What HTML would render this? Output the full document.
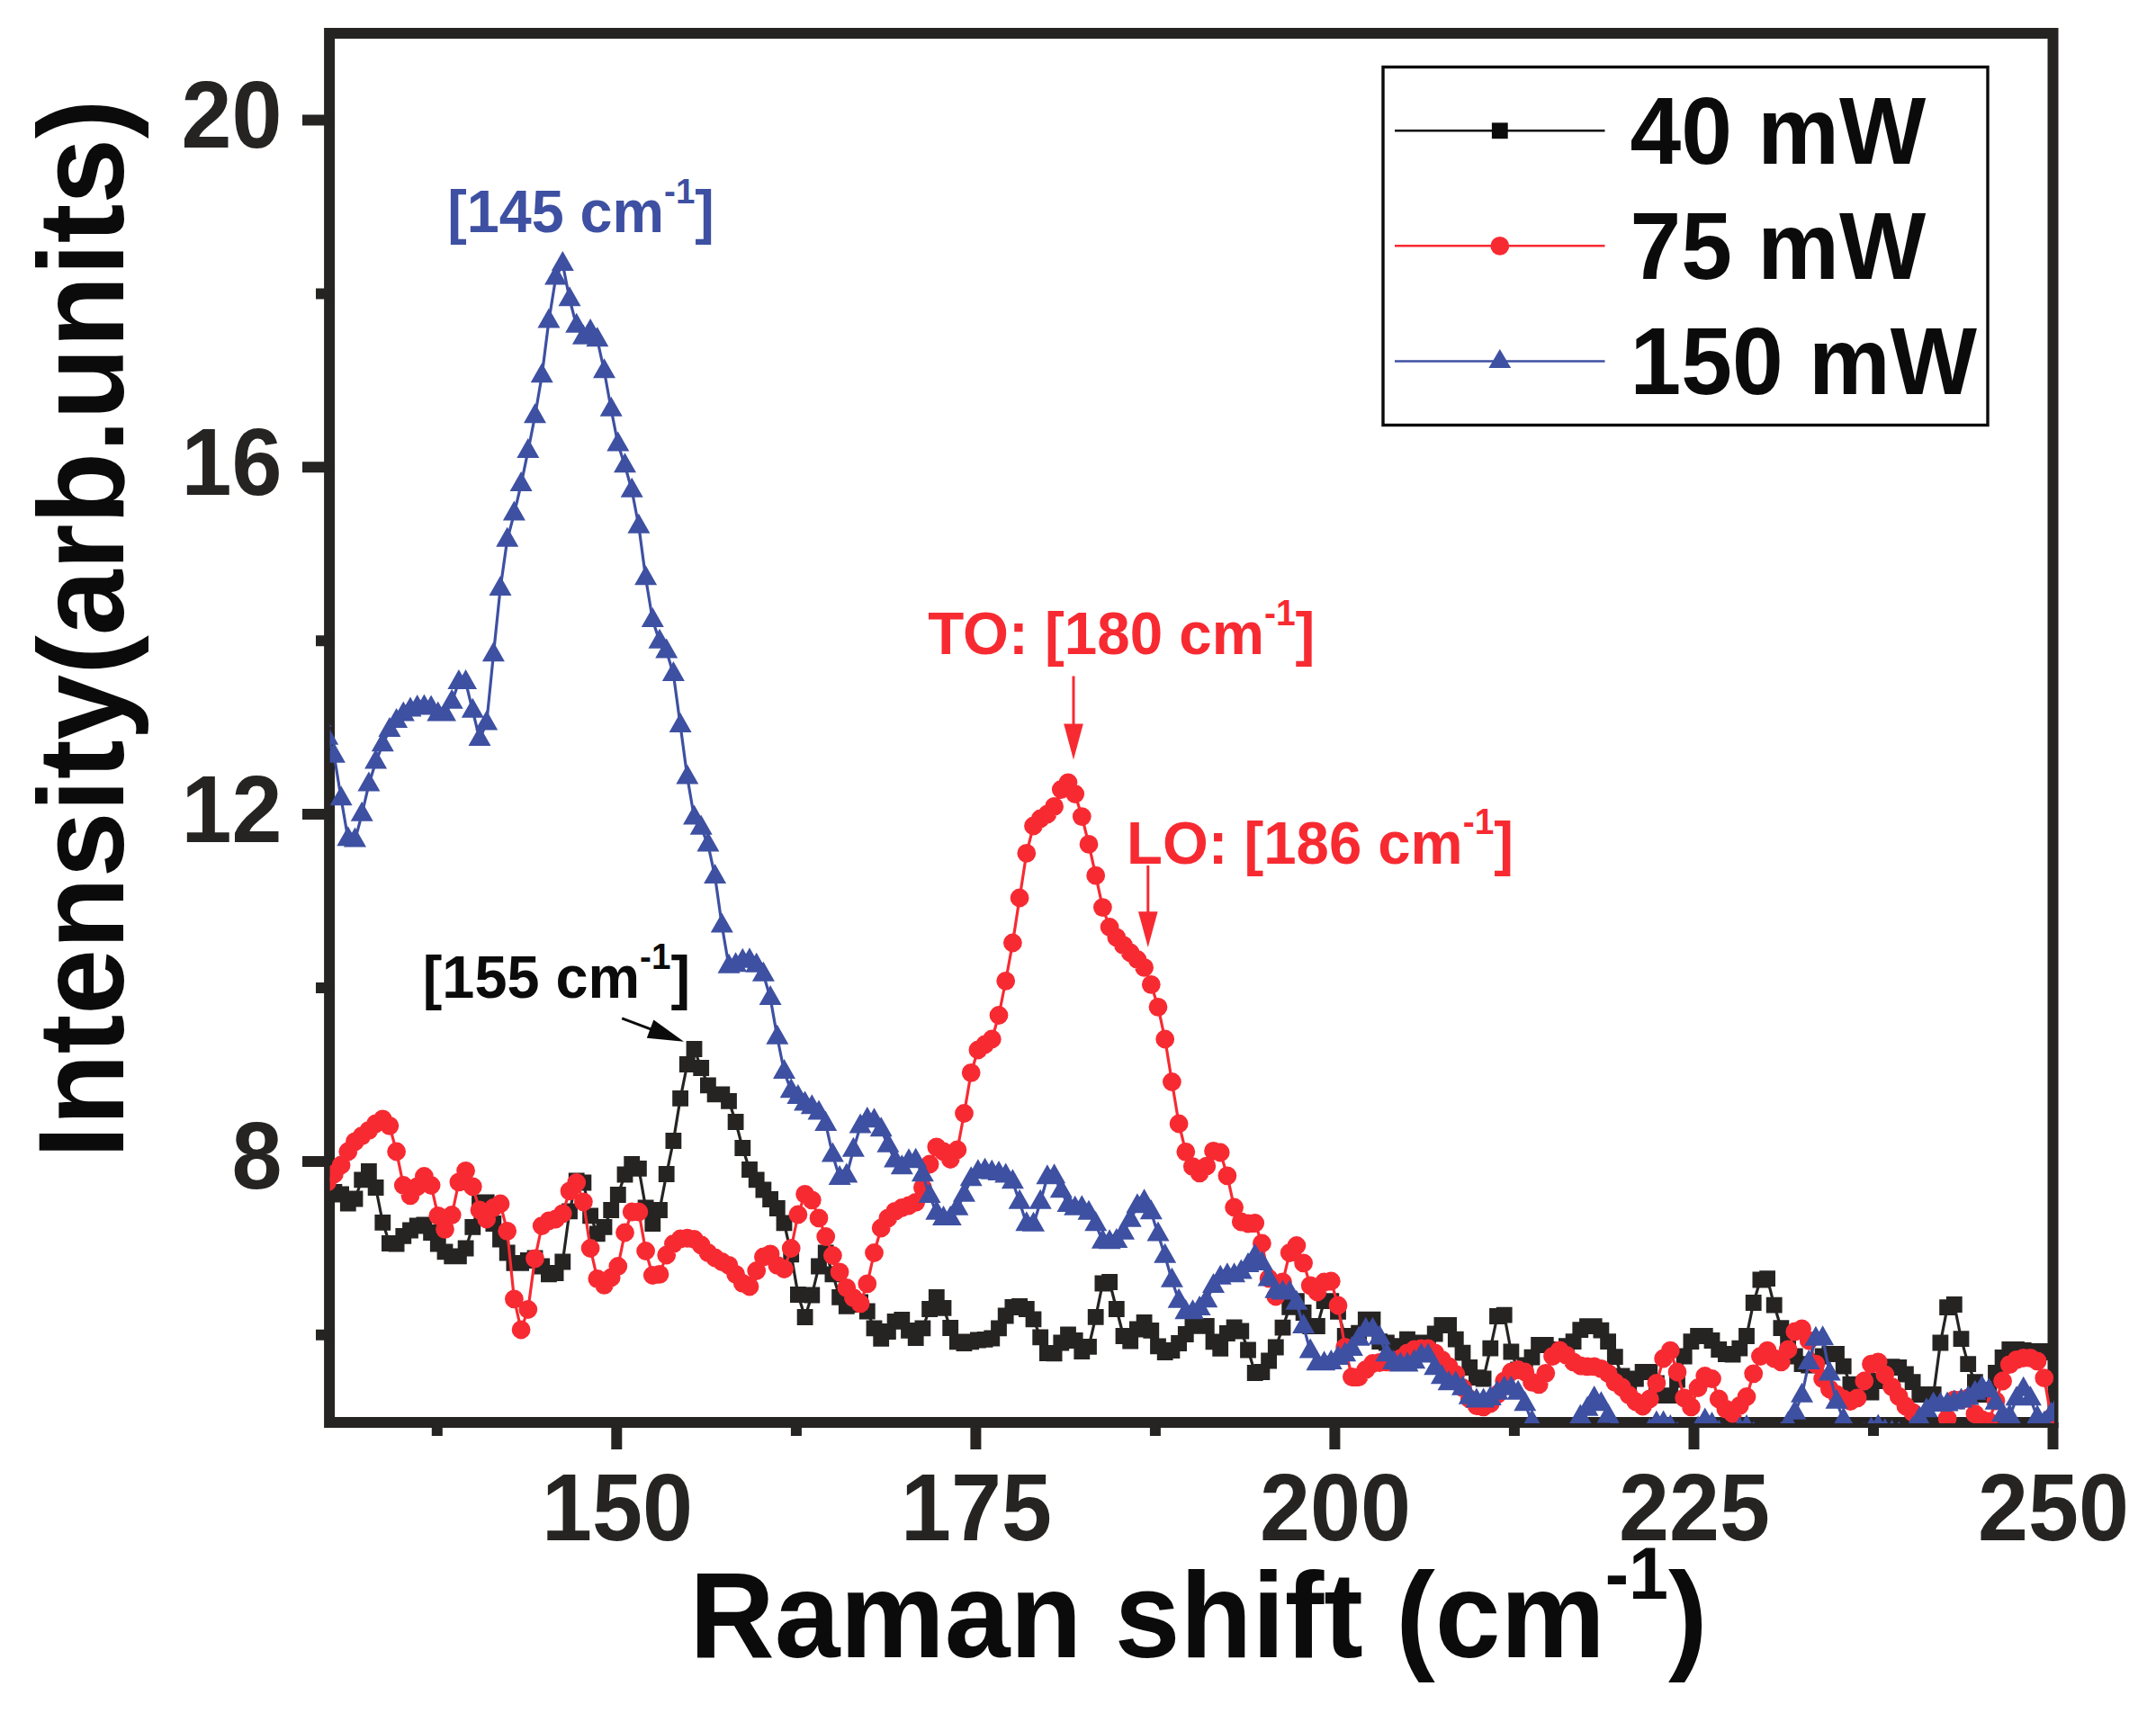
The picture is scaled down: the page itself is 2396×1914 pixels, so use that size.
<!DOCTYPE html>
<html lang="en"><head><meta charset="utf-8"><title>Raman shift</title>
<style>html,body{margin:0;padding:0;background:#fff}body{width:2396px;height:1914px;overflow:hidden}svg{display:block}text{font-family:"Liberation Sans", Arial, Helvetica, sans-serif;font-weight:bold}</style></head><body>
<svg width="2396" height="1914" viewBox="0 0 2396 1914">
<rect width="2396" height="1914" fill="#fff"/>
<defs><clipPath id="cp"><rect x="366.6" y="37" width="1916.4" height="1545"/></clipPath></defs>
<rect x="366.1" y="37" width="1915.4" height="1544" fill="none" stroke="#262422" stroke-width="12"/>
<path d="M685.3 1581 V1611 M1084.4 1581 V1611 M1483.4 1581 V1611 M1882.5 1581 V1611 M2281.5 1581 V1611 M485.8 1581 V1596 M884.9 1581 V1596 M1283.9 1581 V1596 M1682.9 1581 V1596 M2082 1581 V1596 M366.1 1290.9 H336 M366.1 905.1 H336 M366.1 519.3 H336 M366.1 133.5 H336 M366.1 1483.8 H351 M366.1 1098 H351 M366.1 712.2 H351 M366.1 326.4 H351" stroke="#262422" stroke-width="12" fill="none"/>
<g fill="#262422" font-size="100.7" text-anchor="middle">
<text transform="translate(685.9 1712) scale(1 1.041)" >150</text>
<text transform="translate(1085 1712) scale(1 1.041)" >175</text>
<text transform="translate(1484 1712) scale(1 1.041)" >200</text>
<text transform="translate(1883.1 1712) scale(1 1.041)" >225</text>
<text transform="translate(2282.1 1712) scale(1 1.041)" >250</text>
</g>
<g fill="#262422" font-size="100.7" text-anchor="end">
<text transform="translate(313.5 1321.3) scale(1 1.041)" >8</text>
<text transform="translate(313.5 935.5) scale(1 1.041)" >12</text>
<text transform="translate(313.5 549.7) scale(1 1.041)" >16</text>
<text transform="translate(313.5 163.9) scale(1 1.041)" >20</text>
</g>
<text transform="translate(766.3 1842) scale(1 1.03)" font-size="130.8" fill="#0b0b0b">Raman shift (cm<tspan font-size="79" dy="-63.3">-1</tspan><tspan dy="63.3">)</tspan></text>
<text transform="translate(137.1 1287.6) rotate(-90) scale(1 1.03)" font-size="130.8" fill="#0b0b0b">Intensity(arb.units)</text>
<g clip-path="url(#cp)">
<path d="M356 1315 L363.7 1320 L371.4 1325 L379.1 1327.5 L386.8 1337.5 L394.5 1332.5 L402.2 1311.3 L409.9 1302 L417.6 1320 L425.3 1358.8 L432.9 1382 L440.6 1382.5 L448.3 1373.8 L456 1367.5 L463.7 1362.5 L471.4 1361.3 L479.1 1370 L486.8 1382.5 L494.5 1391.3 L502.2 1396.3 L509.9 1396.3 L517.6 1387.5 L525.3 1363.8 L533 1336.3 L540.7 1336.3 L548.4 1360 L556 1377.5 L563.7 1392.5 L571.4 1403.8 L579.1 1403.8 L586.8 1401 L594.5 1398.3 L602.2 1407.5 L609.9 1416.3 L617.6 1415 L625.3 1402.5 L633 1346.3 L640.7 1312.5 L648.4 1314.5 L656.1 1351.3 L663.8 1371.3 L671.5 1363.8 L679.2 1345 L686.8 1328 L694.5 1305.5 L702.2 1293.8 L709.9 1298.8 L717.6 1342.5 L725.3 1360 L733 1345 L740.7 1305 L748.4 1268 L756.1 1220.8 L763.8 1183 L771.5 1166 L779.2 1187 L786.9 1206.3 L794.6 1216.3 L802.3 1216.3 L810 1223.8 L817.6 1247 L825.3 1276 L833 1300 L840.7 1311.3 L848.4 1322.5 L856.1 1333 L863.8 1343 L871.5 1359.3 L879.2 1394.3 L886.9 1439 L894.6 1464 L902.3 1439.5 L910 1407.5 L917.7 1392.5 L925.4 1416.3 L933.1 1441.8 L940.8 1451.8 L948.4 1450 L956.1 1447.5 L963.8 1457.5 L971.5 1476.3 L979.2 1487.8 L986.9 1480 L994.6 1468.8 L1002.3 1466.8 L1010 1478.8 L1017.7 1487 L1025.4 1476.3 L1033.1 1455 L1040.8 1441.8 L1048.5 1453.8 L1056.2 1476 L1063.9 1491.3 L1071.5 1493 L1079.2 1491.3 L1086.9 1489.5 L1094.6 1488.8 L1102.3 1487.5 L1110 1476.3 L1117.7 1462.5 L1125.4 1453 L1133.1 1451.8 L1140.8 1455 L1148.5 1466.3 L1156.2 1486.3 L1163.9 1504 L1171.6 1504.3 L1179.3 1492.5 L1187 1483.3 L1194.7 1490 L1202.3 1502 L1210 1496.8 L1217.7 1463.8 L1225.4 1426.5 L1233.1 1425 L1240.8 1455 L1248.5 1485 L1256.2 1490.5 L1263.9 1477.5 L1271.6 1470 L1279.3 1478.8 L1287 1496.3 L1294.7 1503 L1302.4 1501 L1310.1 1493 L1317.8 1483 L1325.5 1473.8 L1333.1 1473.8 L1340.8 1473.8 L1348.5 1491.3 L1356.2 1498.8 L1363.9 1482 L1371.6 1475.3 L1379.3 1479.5 L1387 1500.5 L1394.7 1526 L1402.4 1525 L1410.1 1512.5 L1417.8 1497.5 L1425.5 1475.8 L1433.2 1452.8 L1440.9 1446.2 L1448.6 1459 L1456.2 1474 L1463.9 1474 L1471.6 1446.2 L1479.3 1446.2 L1487 1457.8 L1494.7 1485 L1502.4 1485.4 L1510.1 1481.6 L1517.8 1466.8 L1525.5 1466.8 L1533.2 1491.2 L1540.9 1492.5 L1548.6 1496.2 L1556.3 1496.2 L1564 1488.8 L1571.7 1492.5 L1579.4 1492.5 L1587 1492.5 L1594.7 1482.5 L1602.4 1473 L1610.1 1473 L1617.8 1488.8 L1625.5 1503.8 L1633.2 1520 L1640.9 1531.2 L1648.6 1532.5 L1656.3 1498.8 L1664 1463 L1671.7 1461.8 L1679.4 1502.5 L1687.1 1522.5 L1694.8 1517.5 L1702.5 1508.8 L1710.2 1495 L1717.8 1495 L1725.5 1500 L1733.2 1502.5 L1740.9 1496.2 L1748.6 1491.2 L1756.3 1478.2 L1764 1474.2 L1771.7 1474.2 L1779.4 1478.8 L1787.1 1491.2 L1794.8 1508.2 L1802.5 1529.5 L1810.2 1546.2 L1817.9 1532.5 L1825.6 1525 L1833.3 1525 L1840.9 1537.5 L1848.6 1551.2 L1856.3 1551.2 L1864 1533.8 L1871.7 1507.5 L1879.4 1491.2 L1887.1 1485 L1894.8 1485 L1902.5 1490 L1910.2 1500 L1917.9 1505 L1925.6 1505.5 L1933.3 1498.8 L1941 1485 L1948.7 1448 L1956.4 1422.5 L1964.1 1421.2 L1971.7 1450.8 L1979.4 1476.2 L1987.1 1493.8 L1994.8 1507.5 L2002.5 1516.2 L2010.2 1517.5 L2017.9 1513.8 L2025.6 1507.5 L2033.3 1505 L2041 1505 L2048.7 1518.8 L2056.4 1538.8 L2064.1 1546.2 L2071.8 1547.5 L2079.5 1547.5 L2087.2 1535 L2094.8 1522.5 L2102.5 1519.2 L2110.2 1520 L2117.9 1527.5 L2125.6 1536.2 L2133.3 1550 L2141 1550 L2148.7 1550 L2156.4 1492.5 L2164.1 1453.2 L2171.8 1450 L2179.5 1488.2 L2187.2 1516.2 L2194.9 1536.2 L2202.6 1550 L2210.3 1545 L2218 1526 L2225.6 1509 L2233.3 1500 L2241 1500 L2248.7 1501 L2256.4 1502 L2264.1 1502 L2271.8 1502 L2279.5 1503 L2287.2 1504" fill="none" stroke="#262422" stroke-width="3.2" stroke-linejoin="round"/>
<path d="M347.1 1306.1h17.8v17.8h-17.8zM354.8 1311.1h17.8v17.8h-17.8zM362.5 1316.1h17.8v17.8h-17.8zM370.2 1318.6h17.8v17.8h-17.8zM377.9 1328.6h17.8v17.8h-17.8zM385.6 1323.6h17.8v17.8h-17.8zM393.3 1302.4h17.8v17.8h-17.8zM401 1293.1h17.8v17.8h-17.8zM408.7 1311.1h17.8v17.8h-17.8zM416.4 1349.9h17.8v17.8h-17.8zM424 1373.1h17.8v17.8h-17.8zM431.7 1373.6h17.8v17.8h-17.8zM439.4 1364.9h17.8v17.8h-17.8zM447.1 1358.6h17.8v17.8h-17.8zM454.8 1353.6h17.8v17.8h-17.8zM462.5 1352.4h17.8v17.8h-17.8zM470.2 1361.1h17.8v17.8h-17.8zM477.9 1373.6h17.8v17.8h-17.8zM485.6 1382.4h17.8v17.8h-17.8zM493.3 1387.4h17.8v17.8h-17.8zM501 1387.4h17.8v17.8h-17.8zM508.7 1378.6h17.8v17.8h-17.8zM516.4 1354.9h17.8v17.8h-17.8zM524.1 1327.4h17.8v17.8h-17.8zM531.8 1327.4h17.8v17.8h-17.8zM539.5 1351.1h17.8v17.8h-17.8zM547.1 1368.6h17.8v17.8h-17.8zM554.8 1383.6h17.8v17.8h-17.8zM562.5 1394.9h17.8v17.8h-17.8zM570.2 1394.9h17.8v17.8h-17.8zM577.9 1392.1h17.8v17.8h-17.8zM585.6 1389.4h17.8v17.8h-17.8zM593.3 1398.6h17.8v17.8h-17.8zM601 1407.4h17.8v17.8h-17.8zM608.7 1406.1h17.8v17.8h-17.8zM616.4 1393.6h17.8v17.8h-17.8zM624.1 1337.4h17.8v17.8h-17.8zM631.8 1303.6h17.8v17.8h-17.8zM639.5 1305.6h17.8v17.8h-17.8zM647.2 1342.4h17.8v17.8h-17.8zM654.9 1362.4h17.8v17.8h-17.8zM662.6 1354.9h17.8v17.8h-17.8zM670.3 1336.1h17.8v17.8h-17.8zM677.9 1319.1h17.8v17.8h-17.8zM685.6 1296.6h17.8v17.8h-17.8zM693.3 1284.9h17.8v17.8h-17.8zM701 1289.9h17.8v17.8h-17.8zM708.7 1333.6h17.8v17.8h-17.8zM716.4 1351.1h17.8v17.8h-17.8zM724.1 1336.1h17.8v17.8h-17.8zM731.8 1296.1h17.8v17.8h-17.8zM739.5 1259.1h17.8v17.8h-17.8zM747.2 1211.9h17.8v17.8h-17.8zM754.9 1174.1h17.8v17.8h-17.8zM762.6 1157.1h17.8v17.8h-17.8zM770.3 1178.1h17.8v17.8h-17.8zM778 1197.4h17.8v17.8h-17.8zM785.7 1207.4h17.8v17.8h-17.8zM793.4 1207.4h17.8v17.8h-17.8zM801.1 1214.9h17.8v17.8h-17.8zM808.7 1238.1h17.8v17.8h-17.8zM816.4 1267.1h17.8v17.8h-17.8zM824.1 1291.1h17.8v17.8h-17.8zM831.8 1302.4h17.8v17.8h-17.8zM839.5 1313.6h17.8v17.8h-17.8zM847.2 1324.1h17.8v17.8h-17.8zM854.9 1334.1h17.8v17.8h-17.8zM862.6 1350.4h17.8v17.8h-17.8zM870.3 1385.4h17.8v17.8h-17.8zM878 1430.1h17.8v17.8h-17.8zM885.7 1455.1h17.8v17.8h-17.8zM893.4 1430.6h17.8v17.8h-17.8zM901.1 1398.6h17.8v17.8h-17.8zM908.8 1383.6h17.8v17.8h-17.8zM916.5 1407.4h17.8v17.8h-17.8zM924.2 1432.9h17.8v17.8h-17.8zM931.9 1442.9h17.8v17.8h-17.8zM939.5 1441.1h17.8v17.8h-17.8zM947.2 1438.6h17.8v17.8h-17.8zM954.9 1448.6h17.8v17.8h-17.8zM962.6 1467.4h17.8v17.8h-17.8zM970.3 1478.9h17.8v17.8h-17.8zM978 1471.1h17.8v17.8h-17.8zM985.7 1459.9h17.8v17.8h-17.8zM993.4 1457.9h17.8v17.8h-17.8zM1001.1 1469.9h17.8v17.8h-17.8zM1008.8 1478.1h17.8v17.8h-17.8zM1016.5 1467.4h17.8v17.8h-17.8zM1024.2 1446.1h17.8v17.8h-17.8zM1031.9 1432.9h17.8v17.8h-17.8zM1039.6 1444.9h17.8v17.8h-17.8zM1047.3 1467.1h17.8v17.8h-17.8zM1055 1482.4h17.8v17.8h-17.8zM1062.6 1484.1h17.8v17.8h-17.8zM1070.3 1482.4h17.8v17.8h-17.8zM1078 1480.6h17.8v17.8h-17.8zM1085.7 1479.9h17.8v17.8h-17.8zM1093.4 1478.6h17.8v17.8h-17.8zM1101.1 1467.4h17.8v17.8h-17.8zM1108.8 1453.6h17.8v17.8h-17.8zM1116.5 1444.1h17.8v17.8h-17.8zM1124.2 1442.9h17.8v17.8h-17.8zM1131.9 1446.1h17.8v17.8h-17.8zM1139.6 1457.4h17.8v17.8h-17.8zM1147.3 1477.4h17.8v17.8h-17.8zM1155 1495.1h17.8v17.8h-17.8zM1162.7 1495.4h17.8v17.8h-17.8zM1170.4 1483.6h17.8v17.8h-17.8zM1178.1 1474.4h17.8v17.8h-17.8zM1185.8 1481.1h17.8v17.8h-17.8zM1193.4 1493.1h17.8v17.8h-17.8zM1201.1 1487.9h17.8v17.8h-17.8zM1208.8 1454.9h17.8v17.8h-17.8zM1216.5 1417.6h17.8v17.8h-17.8zM1224.2 1416.1h17.8v17.8h-17.8zM1231.9 1446.1h17.8v17.8h-17.8zM1239.6 1476.1h17.8v17.8h-17.8zM1247.3 1481.6h17.8v17.8h-17.8zM1255 1468.6h17.8v17.8h-17.8zM1262.7 1461.1h17.8v17.8h-17.8zM1270.4 1469.9h17.8v17.8h-17.8zM1278.1 1487.4h17.8v17.8h-17.8zM1285.8 1494.1h17.8v17.8h-17.8zM1293.5 1492.1h17.8v17.8h-17.8zM1301.2 1484.1h17.8v17.8h-17.8zM1308.9 1474.1h17.8v17.8h-17.8zM1316.5 1464.9h17.8v17.8h-17.8zM1324.2 1464.9h17.8v17.8h-17.8zM1331.9 1464.9h17.8v17.8h-17.8zM1339.6 1482.4h17.8v17.8h-17.8zM1347.3 1489.9h17.8v17.8h-17.8zM1355 1473.1h17.8v17.8h-17.8zM1362.7 1466.4h17.8v17.8h-17.8zM1370.4 1470.6h17.8v17.8h-17.8zM1378.1 1491.6h17.8v17.8h-17.8zM1385.8 1517.1h17.8v17.8h-17.8zM1393.5 1516.1h17.8v17.8h-17.8zM1401.2 1503.6h17.8v17.8h-17.8zM1408.9 1488.6h17.8v17.8h-17.8zM1416.6 1466.8h17.8v17.8h-17.8zM1424.3 1443.9h17.8v17.8h-17.8zM1432 1437.3h17.8v17.8h-17.8zM1439.7 1450.1h17.8v17.8h-17.8zM1447.3 1465.1h17.8v17.8h-17.8zM1455 1465.1h17.8v17.8h-17.8zM1462.7 1437.3h17.8v17.8h-17.8zM1470.4 1437.3h17.8v17.8h-17.8zM1478.1 1448.9h17.8v17.8h-17.8zM1485.8 1476.1h17.8v17.8h-17.8zM1493.5 1476.5h17.8v17.8h-17.8zM1501.2 1472.7h17.8v17.8h-17.8zM1508.9 1457.8h17.8v17.8h-17.8zM1516.6 1457.8h17.8v17.8h-17.8zM1524.3 1482.3h17.8v17.8h-17.8zM1532 1483.6h17.8v17.8h-17.8zM1539.7 1487.3h17.8v17.8h-17.8zM1547.4 1487.3h17.8v17.8h-17.8zM1555.1 1479.8h17.8v17.8h-17.8zM1562.8 1483.6h17.8v17.8h-17.8zM1570.5 1483.6h17.8v17.8h-17.8zM1578.1 1483.6h17.8v17.8h-17.8zM1585.8 1473.6h17.8v17.8h-17.8zM1593.5 1464.1h17.8v17.8h-17.8zM1601.2 1464.1h17.8v17.8h-17.8zM1608.9 1479.8h17.8v17.8h-17.8zM1616.6 1494.8h17.8v17.8h-17.8zM1624.3 1511.1h17.8v17.8h-17.8zM1632 1522.3h17.8v17.8h-17.8zM1639.7 1523.6h17.8v17.8h-17.8zM1647.4 1489.8h17.8v17.8h-17.8zM1655.1 1454.1h17.8v17.8h-17.8zM1662.8 1452.8h17.8v17.8h-17.8zM1670.5 1493.6h17.8v17.8h-17.8zM1678.2 1513.6h17.8v17.8h-17.8zM1685.9 1508.6h17.8v17.8h-17.8zM1693.6 1499.8h17.8v17.8h-17.8zM1701.2 1486.1h17.8v17.8h-17.8zM1708.9 1486.1h17.8v17.8h-17.8zM1716.6 1491.1h17.8v17.8h-17.8zM1724.3 1493.6h17.8v17.8h-17.8zM1732 1487.3h17.8v17.8h-17.8zM1739.7 1482.3h17.8v17.8h-17.8zM1747.4 1469.3h17.8v17.8h-17.8zM1755.1 1465.3h17.8v17.8h-17.8zM1762.8 1465.3h17.8v17.8h-17.8zM1770.5 1469.8h17.8v17.8h-17.8zM1778.2 1482.3h17.8v17.8h-17.8zM1785.9 1499.3h17.8v17.8h-17.8zM1793.6 1520.6h17.8v17.8h-17.8zM1801.3 1537.3h17.8v17.8h-17.8zM1809 1523.6h17.8v17.8h-17.8zM1816.7 1516.1h17.8v17.8h-17.8zM1824.4 1516.1h17.8v17.8h-17.8zM1832 1528.6h17.8v17.8h-17.8zM1839.7 1542.3h17.8v17.8h-17.8zM1847.4 1542.3h17.8v17.8h-17.8zM1855.1 1524.8h17.8v17.8h-17.8zM1862.8 1498.6h17.8v17.8h-17.8zM1870.5 1482.3h17.8v17.8h-17.8zM1878.2 1476.1h17.8v17.8h-17.8zM1885.9 1476.1h17.8v17.8h-17.8zM1893.6 1481.1h17.8v17.8h-17.8zM1901.3 1491.1h17.8v17.8h-17.8zM1909 1496.1h17.8v17.8h-17.8zM1916.7 1496.6h17.8v17.8h-17.8zM1924.4 1489.8h17.8v17.8h-17.8zM1932.1 1476.1h17.8v17.8h-17.8zM1939.8 1439.1h17.8v17.8h-17.8zM1947.5 1413.6h17.8v17.8h-17.8zM1955.2 1412.3h17.8v17.8h-17.8zM1962.8 1441.8h17.8v17.8h-17.8zM1970.5 1467.3h17.8v17.8h-17.8zM1978.2 1484.8h17.8v17.8h-17.8zM1985.9 1498.6h17.8v17.8h-17.8zM1993.6 1507.3h17.8v17.8h-17.8zM2001.3 1508.6h17.8v17.8h-17.8zM2009 1504.8h17.8v17.8h-17.8zM2016.7 1498.6h17.8v17.8h-17.8zM2024.4 1496.1h17.8v17.8h-17.8zM2032.1 1496.1h17.8v17.8h-17.8zM2039.8 1509.8h17.8v17.8h-17.8zM2047.5 1529.8h17.8v17.8h-17.8zM2055.2 1537.3h17.8v17.8h-17.8zM2062.9 1538.6h17.8v17.8h-17.8zM2070.6 1538.6h17.8v17.8h-17.8zM2078.3 1526.1h17.8v17.8h-17.8zM2085.9 1513.6h17.8v17.8h-17.8zM2093.6 1510.3h17.8v17.8h-17.8zM2101.3 1511.1h17.8v17.8h-17.8zM2109 1518.6h17.8v17.8h-17.8zM2116.7 1527.3h17.8v17.8h-17.8zM2124.4 1541.1h17.8v17.8h-17.8zM2132.1 1541.1h17.8v17.8h-17.8zM2139.8 1541.1h17.8v17.8h-17.8zM2147.5 1483.6h17.8v17.8h-17.8zM2155.2 1444.3h17.8v17.8h-17.8zM2162.9 1441.1h17.8v17.8h-17.8zM2170.6 1479.3h17.8v17.8h-17.8zM2178.3 1507.3h17.8v17.8h-17.8zM2186 1527.3h17.8v17.8h-17.8zM2193.7 1541.1h17.8v17.8h-17.8zM2201.4 1536.1h17.8v17.8h-17.8zM2209.1 1517.1h17.8v17.8h-17.8zM2216.7 1500.1h17.8v17.8h-17.8zM2224.4 1491.1h17.8v17.8h-17.8zM2232.1 1491.1h17.8v17.8h-17.8zM2239.8 1492.1h17.8v17.8h-17.8zM2247.5 1493.1h17.8v17.8h-17.8zM2255.2 1493.1h17.8v17.8h-17.8zM2262.9 1493.1h17.8v17.8h-17.8zM2270.6 1494.1h17.8v17.8h-17.8zM2278.3 1495.1h17.8v17.8h-17.8z" fill="#262422"/>
<path d="M356 1322.6 L363.7 1313.8 L371.4 1305 L379.1 1295 L386.8 1280 L394.5 1268.8 L402.2 1262.5 L409.9 1256.3 L417.6 1248.8 L425.3 1243.8 L432.9 1251.3 L440.6 1280 L448.3 1317.5 L456 1328.8 L463.7 1318.8 L471.4 1307.5 L479.1 1317.5 L486.8 1351.3 L494.5 1366.3 L502.2 1350.5 L509.9 1313.8 L517.6 1301.3 L525.3 1318.8 L533 1345 L540.7 1355 L548.4 1342.5 L556 1338 L563.7 1368.3 L571.4 1443.8 L579.1 1478 L586.8 1455.5 L594.5 1398.8 L602.2 1362.5 L609.9 1357 L617.6 1355 L625.3 1348.8 L633 1323.8 L640.7 1314.5 L648.4 1335.8 L656.1 1387.5 L663.8 1421.3 L671.5 1428.3 L679.2 1420 L686.8 1407.5 L694.5 1370 L702.2 1347 L709.9 1347 L717.6 1390.5 L725.3 1417.5 L733 1416.3 L740.7 1395 L748.4 1382.5 L756.1 1377 L763.8 1376.3 L771.5 1377.5 L779.2 1383.8 L786.9 1392.5 L794.6 1398 L802.3 1402.5 L810 1406.3 L817.6 1416.3 L825.3 1426.3 L833 1430 L840.7 1412.5 L848.4 1397 L856.1 1393.8 L863.8 1406.3 L871.5 1410.5 L879.2 1387.5 L886.9 1350 L894.6 1327.3 L902.3 1333.8 L910 1353.8 L917.7 1374.5 L925.4 1395.5 L933.1 1413.8 L940.8 1431.3 L948.4 1442.5 L956.1 1448.8 L963.8 1426.8 L971.5 1392.5 L979.2 1365 L986.9 1353.8 L994.6 1346.3 L1002.3 1342.5 L1010 1340 L1017.7 1336.3 L1025.4 1320 L1033.1 1294 L1040.8 1274.8 L1048.5 1280 L1056.2 1288.5 L1063.9 1278 L1071.5 1237.5 L1079.2 1192.3 L1086.9 1167 L1094.6 1161 L1102.3 1155 L1110 1128.5 L1117.7 1090.3 L1125.4 1048 L1133.1 998 L1140.8 948.4 L1148.5 918 L1156.2 910 L1163.9 905 L1171.6 896.4 L1179.3 877.5 L1187 869.8 L1194.7 882.5 L1202.3 907.6 L1210 938.4 L1217.7 973.2 L1225.4 1008.6 L1233.1 1030.5 L1240.8 1041.8 L1248.5 1050.7 L1256.2 1059 L1263.9 1066.5 L1271.6 1075.4 L1279.3 1094.3 L1287 1119.3 L1294.7 1155 L1302.4 1202.5 L1310.1 1249 L1317.8 1280.3 L1325.5 1296.6 L1333.1 1303.8 L1340.8 1296.2 L1348.5 1279.4 L1356.2 1281 L1363.9 1306.8 L1371.6 1342 L1379.3 1358 L1387 1360 L1394.7 1359.5 L1402.4 1382 L1410.1 1421 L1417.8 1441 L1425.5 1425 L1433.2 1392.5 L1440.9 1384.5 L1448.6 1403.8 L1456.2 1428.8 L1463.9 1436 L1471.6 1425 L1479.3 1424 L1487 1451 L1494.7 1497.5 L1502.4 1530.5 L1510.1 1530.5 L1517.8 1522.5 L1525.5 1515.5 L1533.2 1514.5 L1540.9 1513.8 L1548.6 1512.5 L1556.3 1510 L1564 1503.8 L1571.7 1500 L1579.4 1498.8 L1587 1498.8 L1594.7 1503.8 L1602.4 1511.3 L1610.1 1518.8 L1617.8 1527.5 L1625.5 1542.5 L1633.2 1555 L1640.9 1562.5 L1648.6 1563.8 L1656.3 1560 L1664 1550 L1671.7 1535 L1679.4 1525 L1687.1 1522.5 L1694.8 1525 L1702.5 1536.3 L1710.2 1538.8 L1717.8 1526.3 L1725.5 1507.5 L1733.2 1500.8 L1740.9 1506.3 L1748.6 1513.8 L1756.3 1518 L1764 1518.8 L1771.7 1518.8 L1779.4 1521.3 L1787.1 1526.3 L1794.8 1536.3 L1802.5 1542 L1810.2 1550.5 L1817.9 1558 L1825.6 1563 L1833.3 1555 L1840.9 1537.5 L1848.6 1510 L1856.3 1501.2 L1864 1525 L1871.7 1553.8 L1879.4 1563.8 L1887.1 1542.5 L1894.8 1529.5 L1902.5 1532.5 L1910.2 1555 L1917.9 1566.2 L1925.6 1571.2 L1933.3 1562.5 L1941 1552.5 L1948.7 1526.8 L1956.4 1507.5 L1964.1 1501.2 L1971.7 1510 L1979.4 1513.8 L1987.1 1500 L1994.8 1480 L2002.5 1477 L2010.2 1490 L2017.9 1516.2 L2025.6 1532.5 L2033.3 1543.8 L2041 1550 L2048.7 1555 L2056.4 1557.5 L2064.1 1553.8 L2071.8 1535 L2079.5 1516.2 L2087.2 1513.8 L2094.8 1527.8 L2102.5 1541.5 L2110.2 1552.2 L2117.9 1563 L2125.6 1569.8 L2133.3 1590 L2141 1600 L2148.7 1602 L2156.4 1596 L2164.1 1576.6 L2171.8 1556 L2179.5 1556 L2187.2 1554 L2194.9 1571.7 L2202.6 1578 L2210.3 1580 L2218 1557 L2225.6 1535 L2233.3 1516.7 L2241 1511.3 L2248.7 1509.4 L2256.4 1509.4 L2264.1 1512.8 L2271.8 1531.7 L2279.5 1576 L2287.2 1600" fill="none" stroke="#f72a32" stroke-width="3.2" stroke-linejoin="round"/>
<path d="M345.6 1322.6a10.4 10.4 0 1 0 20.8 0a10.4 10.4 0 1 0 -20.8 0zM353.3 1313.8a10.4 10.4 0 1 0 20.8 0a10.4 10.4 0 1 0 -20.8 0zM361 1305a10.4 10.4 0 1 0 20.8 0a10.4 10.4 0 1 0 -20.8 0zM368.7 1295a10.4 10.4 0 1 0 20.8 0a10.4 10.4 0 1 0 -20.8 0zM376.4 1280a10.4 10.4 0 1 0 20.8 0a10.4 10.4 0 1 0 -20.8 0zM384.1 1268.8a10.4 10.4 0 1 0 20.8 0a10.4 10.4 0 1 0 -20.8 0zM391.8 1262.5a10.4 10.4 0 1 0 20.8 0a10.4 10.4 0 1 0 -20.8 0zM399.5 1256.3a10.4 10.4 0 1 0 20.8 0a10.4 10.4 0 1 0 -20.8 0zM407.2 1248.8a10.4 10.4 0 1 0 20.8 0a10.4 10.4 0 1 0 -20.8 0zM414.9 1243.8a10.4 10.4 0 1 0 20.8 0a10.4 10.4 0 1 0 -20.8 0zM422.5 1251.3a10.4 10.4 0 1 0 20.8 0a10.4 10.4 0 1 0 -20.8 0zM430.2 1280a10.4 10.4 0 1 0 20.8 0a10.4 10.4 0 1 0 -20.8 0zM437.9 1317.5a10.4 10.4 0 1 0 20.8 0a10.4 10.4 0 1 0 -20.8 0zM445.6 1328.8a10.4 10.4 0 1 0 20.8 0a10.4 10.4 0 1 0 -20.8 0zM453.3 1318.8a10.4 10.4 0 1 0 20.8 0a10.4 10.4 0 1 0 -20.8 0zM461 1307.5a10.4 10.4 0 1 0 20.8 0a10.4 10.4 0 1 0 -20.8 0zM468.7 1317.5a10.4 10.4 0 1 0 20.8 0a10.4 10.4 0 1 0 -20.8 0zM476.4 1351.3a10.4 10.4 0 1 0 20.8 0a10.4 10.4 0 1 0 -20.8 0zM484.1 1366.3a10.4 10.4 0 1 0 20.8 0a10.4 10.4 0 1 0 -20.8 0zM491.8 1350.5a10.4 10.4 0 1 0 20.8 0a10.4 10.4 0 1 0 -20.8 0zM499.5 1313.8a10.4 10.4 0 1 0 20.8 0a10.4 10.4 0 1 0 -20.8 0zM507.2 1301.3a10.4 10.4 0 1 0 20.8 0a10.4 10.4 0 1 0 -20.8 0zM514.9 1318.8a10.4 10.4 0 1 0 20.8 0a10.4 10.4 0 1 0 -20.8 0zM522.6 1345a10.4 10.4 0 1 0 20.8 0a10.4 10.4 0 1 0 -20.8 0zM530.3 1355a10.4 10.4 0 1 0 20.8 0a10.4 10.4 0 1 0 -20.8 0zM538 1342.5a10.4 10.4 0 1 0 20.8 0a10.4 10.4 0 1 0 -20.8 0zM545.6 1338a10.4 10.4 0 1 0 20.8 0a10.4 10.4 0 1 0 -20.8 0zM553.3 1368.3a10.4 10.4 0 1 0 20.8 0a10.4 10.4 0 1 0 -20.8 0zM561 1443.8a10.4 10.4 0 1 0 20.8 0a10.4 10.4 0 1 0 -20.8 0zM568.7 1478a10.4 10.4 0 1 0 20.8 0a10.4 10.4 0 1 0 -20.8 0zM576.4 1455.5a10.4 10.4 0 1 0 20.8 0a10.4 10.4 0 1 0 -20.8 0zM584.1 1398.8a10.4 10.4 0 1 0 20.8 0a10.4 10.4 0 1 0 -20.8 0zM591.8 1362.5a10.4 10.4 0 1 0 20.8 0a10.4 10.4 0 1 0 -20.8 0zM599.5 1357a10.4 10.4 0 1 0 20.8 0a10.4 10.4 0 1 0 -20.8 0zM607.2 1355a10.4 10.4 0 1 0 20.8 0a10.4 10.4 0 1 0 -20.8 0zM614.9 1348.8a10.4 10.4 0 1 0 20.8 0a10.4 10.4 0 1 0 -20.8 0zM622.6 1323.8a10.4 10.4 0 1 0 20.8 0a10.4 10.4 0 1 0 -20.8 0zM630.3 1314.5a10.4 10.4 0 1 0 20.8 0a10.4 10.4 0 1 0 -20.8 0zM638 1335.8a10.4 10.4 0 1 0 20.8 0a10.4 10.4 0 1 0 -20.8 0zM645.7 1387.5a10.4 10.4 0 1 0 20.8 0a10.4 10.4 0 1 0 -20.8 0zM653.4 1421.3a10.4 10.4 0 1 0 20.8 0a10.4 10.4 0 1 0 -20.8 0zM661.1 1428.3a10.4 10.4 0 1 0 20.8 0a10.4 10.4 0 1 0 -20.8 0zM668.8 1420a10.4 10.4 0 1 0 20.8 0a10.4 10.4 0 1 0 -20.8 0zM676.4 1407.5a10.4 10.4 0 1 0 20.8 0a10.4 10.4 0 1 0 -20.8 0zM684.1 1370a10.4 10.4 0 1 0 20.8 0a10.4 10.4 0 1 0 -20.8 0zM691.8 1347a10.4 10.4 0 1 0 20.8 0a10.4 10.4 0 1 0 -20.8 0zM699.5 1347a10.4 10.4 0 1 0 20.8 0a10.4 10.4 0 1 0 -20.8 0zM707.2 1390.5a10.4 10.4 0 1 0 20.8 0a10.4 10.4 0 1 0 -20.8 0zM714.9 1417.5a10.4 10.4 0 1 0 20.8 0a10.4 10.4 0 1 0 -20.8 0zM722.6 1416.3a10.4 10.4 0 1 0 20.8 0a10.4 10.4 0 1 0 -20.8 0zM730.3 1395a10.4 10.4 0 1 0 20.8 0a10.4 10.4 0 1 0 -20.8 0zM738 1382.5a10.4 10.4 0 1 0 20.8 0a10.4 10.4 0 1 0 -20.8 0zM745.7 1377a10.4 10.4 0 1 0 20.8 0a10.4 10.4 0 1 0 -20.8 0zM753.4 1376.3a10.4 10.4 0 1 0 20.8 0a10.4 10.4 0 1 0 -20.8 0zM761.1 1377.5a10.4 10.4 0 1 0 20.8 0a10.4 10.4 0 1 0 -20.8 0zM768.8 1383.8a10.4 10.4 0 1 0 20.8 0a10.4 10.4 0 1 0 -20.8 0zM776.5 1392.5a10.4 10.4 0 1 0 20.8 0a10.4 10.4 0 1 0 -20.8 0zM784.2 1398a10.4 10.4 0 1 0 20.8 0a10.4 10.4 0 1 0 -20.8 0zM791.9 1402.5a10.4 10.4 0 1 0 20.8 0a10.4 10.4 0 1 0 -20.8 0zM799.6 1406.3a10.4 10.4 0 1 0 20.8 0a10.4 10.4 0 1 0 -20.8 0zM807.2 1416.3a10.4 10.4 0 1 0 20.8 0a10.4 10.4 0 1 0 -20.8 0zM814.9 1426.3a10.4 10.4 0 1 0 20.8 0a10.4 10.4 0 1 0 -20.8 0zM822.6 1430a10.4 10.4 0 1 0 20.8 0a10.4 10.4 0 1 0 -20.8 0zM830.3 1412.5a10.4 10.4 0 1 0 20.8 0a10.4 10.4 0 1 0 -20.8 0zM838 1397a10.4 10.4 0 1 0 20.8 0a10.4 10.4 0 1 0 -20.8 0zM845.7 1393.8a10.4 10.4 0 1 0 20.8 0a10.4 10.4 0 1 0 -20.8 0zM853.4 1406.3a10.4 10.4 0 1 0 20.8 0a10.4 10.4 0 1 0 -20.8 0zM861.1 1410.5a10.4 10.4 0 1 0 20.8 0a10.4 10.4 0 1 0 -20.8 0zM868.8 1387.5a10.4 10.4 0 1 0 20.8 0a10.4 10.4 0 1 0 -20.8 0zM876.5 1350a10.4 10.4 0 1 0 20.8 0a10.4 10.4 0 1 0 -20.8 0zM884.2 1327.3a10.4 10.4 0 1 0 20.8 0a10.4 10.4 0 1 0 -20.8 0zM891.9 1333.8a10.4 10.4 0 1 0 20.8 0a10.4 10.4 0 1 0 -20.8 0zM899.6 1353.8a10.4 10.4 0 1 0 20.8 0a10.4 10.4 0 1 0 -20.8 0zM907.3 1374.5a10.4 10.4 0 1 0 20.8 0a10.4 10.4 0 1 0 -20.8 0zM915 1395.5a10.4 10.4 0 1 0 20.8 0a10.4 10.4 0 1 0 -20.8 0zM922.7 1413.8a10.4 10.4 0 1 0 20.8 0a10.4 10.4 0 1 0 -20.8 0zM930.4 1431.3a10.4 10.4 0 1 0 20.8 0a10.4 10.4 0 1 0 -20.8 0zM938 1442.5a10.4 10.4 0 1 0 20.8 0a10.4 10.4 0 1 0 -20.8 0zM945.7 1448.8a10.4 10.4 0 1 0 20.8 0a10.4 10.4 0 1 0 -20.8 0zM953.4 1426.8a10.4 10.4 0 1 0 20.8 0a10.4 10.4 0 1 0 -20.8 0zM961.1 1392.5a10.4 10.4 0 1 0 20.8 0a10.4 10.4 0 1 0 -20.8 0zM968.8 1365a10.4 10.4 0 1 0 20.8 0a10.4 10.4 0 1 0 -20.8 0zM976.5 1353.8a10.4 10.4 0 1 0 20.8 0a10.4 10.4 0 1 0 -20.8 0zM984.2 1346.3a10.4 10.4 0 1 0 20.8 0a10.4 10.4 0 1 0 -20.8 0zM991.9 1342.5a10.4 10.4 0 1 0 20.8 0a10.4 10.4 0 1 0 -20.8 0zM999.6 1340a10.4 10.4 0 1 0 20.8 0a10.4 10.4 0 1 0 -20.8 0zM1007.3 1336.3a10.4 10.4 0 1 0 20.8 0a10.4 10.4 0 1 0 -20.8 0zM1015 1320a10.4 10.4 0 1 0 20.8 0a10.4 10.4 0 1 0 -20.8 0zM1022.7 1294a10.4 10.4 0 1 0 20.8 0a10.4 10.4 0 1 0 -20.8 0zM1030.4 1274.8a10.4 10.4 0 1 0 20.8 0a10.4 10.4 0 1 0 -20.8 0zM1038.1 1280a10.4 10.4 0 1 0 20.8 0a10.4 10.4 0 1 0 -20.8 0zM1045.8 1288.5a10.4 10.4 0 1 0 20.8 0a10.4 10.4 0 1 0 -20.8 0zM1053.5 1278a10.4 10.4 0 1 0 20.8 0a10.4 10.4 0 1 0 -20.8 0zM1061.1 1237.5a10.4 10.4 0 1 0 20.8 0a10.4 10.4 0 1 0 -20.8 0zM1068.8 1192.3a10.4 10.4 0 1 0 20.8 0a10.4 10.4 0 1 0 -20.8 0zM1076.5 1167a10.4 10.4 0 1 0 20.8 0a10.4 10.4 0 1 0 -20.8 0zM1084.2 1161a10.4 10.4 0 1 0 20.8 0a10.4 10.4 0 1 0 -20.8 0zM1091.9 1155a10.4 10.4 0 1 0 20.8 0a10.4 10.4 0 1 0 -20.8 0zM1099.6 1128.5a10.4 10.4 0 1 0 20.8 0a10.4 10.4 0 1 0 -20.8 0zM1107.3 1090.3a10.4 10.4 0 1 0 20.8 0a10.4 10.4 0 1 0 -20.8 0zM1115 1048a10.4 10.4 0 1 0 20.8 0a10.4 10.4 0 1 0 -20.8 0zM1122.7 998a10.4 10.4 0 1 0 20.8 0a10.4 10.4 0 1 0 -20.8 0zM1130.4 948.4a10.4 10.4 0 1 0 20.8 0a10.4 10.4 0 1 0 -20.8 0zM1138.1 918a10.4 10.4 0 1 0 20.8 0a10.4 10.4 0 1 0 -20.8 0zM1145.8 910a10.4 10.4 0 1 0 20.8 0a10.4 10.4 0 1 0 -20.8 0zM1153.5 905a10.4 10.4 0 1 0 20.8 0a10.4 10.4 0 1 0 -20.8 0zM1161.2 896.4a10.4 10.4 0 1 0 20.8 0a10.4 10.4 0 1 0 -20.8 0zM1168.9 877.5a10.4 10.4 0 1 0 20.8 0a10.4 10.4 0 1 0 -20.8 0zM1176.6 869.8a10.4 10.4 0 1 0 20.8 0a10.4 10.4 0 1 0 -20.8 0zM1184.3 882.5a10.4 10.4 0 1 0 20.8 0a10.4 10.4 0 1 0 -20.8 0zM1191.9 907.6a10.4 10.4 0 1 0 20.8 0a10.4 10.4 0 1 0 -20.8 0zM1199.6 938.4a10.4 10.4 0 1 0 20.8 0a10.4 10.4 0 1 0 -20.8 0zM1207.3 973.2a10.4 10.4 0 1 0 20.8 0a10.4 10.4 0 1 0 -20.8 0zM1215 1008.6a10.4 10.4 0 1 0 20.8 0a10.4 10.4 0 1 0 -20.8 0zM1222.7 1030.5a10.4 10.4 0 1 0 20.8 0a10.4 10.4 0 1 0 -20.8 0zM1230.4 1041.8a10.4 10.4 0 1 0 20.8 0a10.4 10.4 0 1 0 -20.8 0zM1238.1 1050.7a10.4 10.4 0 1 0 20.8 0a10.4 10.4 0 1 0 -20.8 0zM1245.8 1059a10.4 10.4 0 1 0 20.8 0a10.4 10.4 0 1 0 -20.8 0zM1253.5 1066.5a10.4 10.4 0 1 0 20.8 0a10.4 10.4 0 1 0 -20.8 0zM1261.2 1075.4a10.4 10.4 0 1 0 20.8 0a10.4 10.4 0 1 0 -20.8 0zM1268.9 1094.3a10.4 10.4 0 1 0 20.8 0a10.4 10.4 0 1 0 -20.8 0zM1276.6 1119.3a10.4 10.4 0 1 0 20.8 0a10.4 10.4 0 1 0 -20.8 0zM1284.3 1155a10.4 10.4 0 1 0 20.8 0a10.4 10.4 0 1 0 -20.8 0zM1292 1202.5a10.4 10.4 0 1 0 20.8 0a10.4 10.4 0 1 0 -20.8 0zM1299.7 1249a10.4 10.4 0 1 0 20.8 0a10.4 10.4 0 1 0 -20.8 0zM1307.4 1280.3a10.4 10.4 0 1 0 20.8 0a10.4 10.4 0 1 0 -20.8 0zM1315 1296.6a10.4 10.4 0 1 0 20.8 0a10.4 10.4 0 1 0 -20.8 0zM1322.7 1303.8a10.4 10.4 0 1 0 20.8 0a10.4 10.4 0 1 0 -20.8 0zM1330.4 1296.2a10.4 10.4 0 1 0 20.8 0a10.4 10.4 0 1 0 -20.8 0zM1338.1 1279.4a10.4 10.4 0 1 0 20.8 0a10.4 10.4 0 1 0 -20.8 0zM1345.8 1281a10.4 10.4 0 1 0 20.8 0a10.4 10.4 0 1 0 -20.8 0zM1353.5 1306.8a10.4 10.4 0 1 0 20.8 0a10.4 10.4 0 1 0 -20.8 0zM1361.2 1342a10.4 10.4 0 1 0 20.8 0a10.4 10.4 0 1 0 -20.8 0zM1368.9 1358a10.4 10.4 0 1 0 20.8 0a10.4 10.4 0 1 0 -20.8 0zM1376.6 1360a10.4 10.4 0 1 0 20.8 0a10.4 10.4 0 1 0 -20.8 0zM1384.3 1359.5a10.4 10.4 0 1 0 20.8 0a10.4 10.4 0 1 0 -20.8 0zM1392 1382a10.4 10.4 0 1 0 20.8 0a10.4 10.4 0 1 0 -20.8 0zM1399.7 1421a10.4 10.4 0 1 0 20.8 0a10.4 10.4 0 1 0 -20.8 0zM1407.4 1441a10.4 10.4 0 1 0 20.8 0a10.4 10.4 0 1 0 -20.8 0zM1415.1 1425a10.4 10.4 0 1 0 20.8 0a10.4 10.4 0 1 0 -20.8 0zM1422.8 1392.5a10.4 10.4 0 1 0 20.8 0a10.4 10.4 0 1 0 -20.8 0zM1430.5 1384.5a10.4 10.4 0 1 0 20.8 0a10.4 10.4 0 1 0 -20.8 0zM1438.2 1403.8a10.4 10.4 0 1 0 20.8 0a10.4 10.4 0 1 0 -20.8 0zM1445.8 1428.8a10.4 10.4 0 1 0 20.8 0a10.4 10.4 0 1 0 -20.8 0zM1453.5 1436a10.4 10.4 0 1 0 20.8 0a10.4 10.4 0 1 0 -20.8 0zM1461.2 1425a10.4 10.4 0 1 0 20.8 0a10.4 10.4 0 1 0 -20.8 0zM1468.9 1424a10.4 10.4 0 1 0 20.8 0a10.4 10.4 0 1 0 -20.8 0zM1476.6 1451a10.4 10.4 0 1 0 20.8 0a10.4 10.4 0 1 0 -20.8 0zM1484.3 1497.5a10.4 10.4 0 1 0 20.8 0a10.4 10.4 0 1 0 -20.8 0zM1492 1530.5a10.4 10.4 0 1 0 20.8 0a10.4 10.4 0 1 0 -20.8 0zM1499.7 1530.5a10.4 10.4 0 1 0 20.8 0a10.4 10.4 0 1 0 -20.8 0zM1507.4 1522.5a10.4 10.4 0 1 0 20.8 0a10.4 10.4 0 1 0 -20.8 0zM1515.1 1515.5a10.4 10.4 0 1 0 20.8 0a10.4 10.4 0 1 0 -20.8 0zM1522.8 1514.5a10.4 10.4 0 1 0 20.8 0a10.4 10.4 0 1 0 -20.8 0zM1530.5 1513.8a10.4 10.4 0 1 0 20.8 0a10.4 10.4 0 1 0 -20.8 0zM1538.2 1512.5a10.4 10.4 0 1 0 20.8 0a10.4 10.4 0 1 0 -20.8 0zM1545.9 1510a10.4 10.4 0 1 0 20.8 0a10.4 10.4 0 1 0 -20.8 0zM1553.6 1503.8a10.4 10.4 0 1 0 20.8 0a10.4 10.4 0 1 0 -20.8 0zM1561.3 1500a10.4 10.4 0 1 0 20.8 0a10.4 10.4 0 1 0 -20.8 0zM1569 1498.8a10.4 10.4 0 1 0 20.8 0a10.4 10.4 0 1 0 -20.8 0zM1576.6 1498.8a10.4 10.4 0 1 0 20.8 0a10.4 10.4 0 1 0 -20.8 0zM1584.3 1503.8a10.4 10.4 0 1 0 20.8 0a10.4 10.4 0 1 0 -20.8 0zM1592 1511.3a10.4 10.4 0 1 0 20.8 0a10.4 10.4 0 1 0 -20.8 0zM1599.7 1518.8a10.4 10.4 0 1 0 20.8 0a10.4 10.4 0 1 0 -20.8 0zM1607.4 1527.5a10.4 10.4 0 1 0 20.8 0a10.4 10.4 0 1 0 -20.8 0zM1615.1 1542.5a10.4 10.4 0 1 0 20.8 0a10.4 10.4 0 1 0 -20.8 0zM1622.8 1555a10.4 10.4 0 1 0 20.8 0a10.4 10.4 0 1 0 -20.8 0zM1630.5 1562.5a10.4 10.4 0 1 0 20.8 0a10.4 10.4 0 1 0 -20.8 0zM1638.2 1563.8a10.4 10.4 0 1 0 20.8 0a10.4 10.4 0 1 0 -20.8 0zM1645.9 1560a10.4 10.4 0 1 0 20.8 0a10.4 10.4 0 1 0 -20.8 0zM1653.6 1550a10.4 10.4 0 1 0 20.8 0a10.4 10.4 0 1 0 -20.8 0zM1661.3 1535a10.4 10.4 0 1 0 20.8 0a10.4 10.4 0 1 0 -20.8 0zM1669 1525a10.4 10.4 0 1 0 20.8 0a10.4 10.4 0 1 0 -20.8 0zM1676.7 1522.5a10.4 10.4 0 1 0 20.8 0a10.4 10.4 0 1 0 -20.8 0zM1684.4 1525a10.4 10.4 0 1 0 20.8 0a10.4 10.4 0 1 0 -20.8 0zM1692.1 1536.3a10.4 10.4 0 1 0 20.8 0a10.4 10.4 0 1 0 -20.8 0zM1699.8 1538.8a10.4 10.4 0 1 0 20.8 0a10.4 10.4 0 1 0 -20.8 0zM1707.4 1526.3a10.4 10.4 0 1 0 20.8 0a10.4 10.4 0 1 0 -20.8 0zM1715.1 1507.5a10.4 10.4 0 1 0 20.8 0a10.4 10.4 0 1 0 -20.8 0zM1722.8 1500.8a10.4 10.4 0 1 0 20.8 0a10.4 10.4 0 1 0 -20.8 0zM1730.5 1506.3a10.4 10.4 0 1 0 20.8 0a10.4 10.4 0 1 0 -20.8 0zM1738.2 1513.8a10.4 10.4 0 1 0 20.8 0a10.4 10.4 0 1 0 -20.8 0zM1745.9 1518a10.4 10.4 0 1 0 20.8 0a10.4 10.4 0 1 0 -20.8 0zM1753.6 1518.8a10.4 10.4 0 1 0 20.8 0a10.4 10.4 0 1 0 -20.8 0zM1761.3 1518.8a10.4 10.4 0 1 0 20.8 0a10.4 10.4 0 1 0 -20.8 0zM1769 1521.3a10.4 10.4 0 1 0 20.8 0a10.4 10.4 0 1 0 -20.8 0zM1776.7 1526.3a10.4 10.4 0 1 0 20.8 0a10.4 10.4 0 1 0 -20.8 0zM1784.4 1536.3a10.4 10.4 0 1 0 20.8 0a10.4 10.4 0 1 0 -20.8 0zM1792.1 1542a10.4 10.4 0 1 0 20.8 0a10.4 10.4 0 1 0 -20.8 0zM1799.8 1550.5a10.4 10.4 0 1 0 20.8 0a10.4 10.4 0 1 0 -20.8 0zM1807.5 1558a10.4 10.4 0 1 0 20.8 0a10.4 10.4 0 1 0 -20.8 0zM1815.2 1563a10.4 10.4 0 1 0 20.8 0a10.4 10.4 0 1 0 -20.8 0zM1822.9 1555a10.4 10.4 0 1 0 20.8 0a10.4 10.4 0 1 0 -20.8 0zM1830.5 1537.5a10.4 10.4 0 1 0 20.8 0a10.4 10.4 0 1 0 -20.8 0zM1838.2 1510a10.4 10.4 0 1 0 20.8 0a10.4 10.4 0 1 0 -20.8 0zM1845.9 1501.2a10.4 10.4 0 1 0 20.8 0a10.4 10.4 0 1 0 -20.8 0zM1853.6 1525a10.4 10.4 0 1 0 20.8 0a10.4 10.4 0 1 0 -20.8 0zM1861.3 1553.8a10.4 10.4 0 1 0 20.8 0a10.4 10.4 0 1 0 -20.8 0zM1869 1563.8a10.4 10.4 0 1 0 20.8 0a10.4 10.4 0 1 0 -20.8 0zM1876.7 1542.5a10.4 10.4 0 1 0 20.8 0a10.4 10.4 0 1 0 -20.8 0zM1884.4 1529.5a10.4 10.4 0 1 0 20.8 0a10.4 10.4 0 1 0 -20.8 0zM1892.1 1532.5a10.4 10.4 0 1 0 20.8 0a10.4 10.4 0 1 0 -20.8 0zM1899.8 1555a10.4 10.4 0 1 0 20.8 0a10.4 10.4 0 1 0 -20.8 0zM1907.5 1566.2a10.4 10.4 0 1 0 20.8 0a10.4 10.4 0 1 0 -20.8 0zM1915.2 1571.2a10.4 10.4 0 1 0 20.8 0a10.4 10.4 0 1 0 -20.8 0zM1922.9 1562.5a10.4 10.4 0 1 0 20.8 0a10.4 10.4 0 1 0 -20.8 0zM1930.6 1552.5a10.4 10.4 0 1 0 20.8 0a10.4 10.4 0 1 0 -20.8 0zM1938.3 1526.8a10.4 10.4 0 1 0 20.8 0a10.4 10.4 0 1 0 -20.8 0zM1946 1507.5a10.4 10.4 0 1 0 20.8 0a10.4 10.4 0 1 0 -20.8 0zM1953.7 1501.2a10.4 10.4 0 1 0 20.8 0a10.4 10.4 0 1 0 -20.8 0zM1961.3 1510a10.4 10.4 0 1 0 20.8 0a10.4 10.4 0 1 0 -20.8 0zM1969 1513.8a10.4 10.4 0 1 0 20.8 0a10.4 10.4 0 1 0 -20.8 0zM1976.7 1500a10.4 10.4 0 1 0 20.8 0a10.4 10.4 0 1 0 -20.8 0zM1984.4 1480a10.4 10.4 0 1 0 20.8 0a10.4 10.4 0 1 0 -20.8 0zM1992.1 1477a10.4 10.4 0 1 0 20.8 0a10.4 10.4 0 1 0 -20.8 0zM1999.8 1490a10.4 10.4 0 1 0 20.8 0a10.4 10.4 0 1 0 -20.8 0zM2007.5 1516.2a10.4 10.4 0 1 0 20.8 0a10.4 10.4 0 1 0 -20.8 0zM2015.2 1532.5a10.4 10.4 0 1 0 20.8 0a10.4 10.4 0 1 0 -20.8 0zM2022.9 1543.8a10.4 10.4 0 1 0 20.8 0a10.4 10.4 0 1 0 -20.8 0zM2030.6 1550a10.4 10.4 0 1 0 20.8 0a10.4 10.4 0 1 0 -20.8 0zM2038.3 1555a10.4 10.4 0 1 0 20.8 0a10.4 10.4 0 1 0 -20.8 0zM2046 1557.5a10.4 10.4 0 1 0 20.8 0a10.4 10.4 0 1 0 -20.8 0zM2053.7 1553.8a10.4 10.4 0 1 0 20.8 0a10.4 10.4 0 1 0 -20.8 0zM2061.4 1535a10.4 10.4 0 1 0 20.8 0a10.4 10.4 0 1 0 -20.8 0zM2069.1 1516.2a10.4 10.4 0 1 0 20.8 0a10.4 10.4 0 1 0 -20.8 0zM2076.8 1513.8a10.4 10.4 0 1 0 20.8 0a10.4 10.4 0 1 0 -20.8 0zM2084.4 1527.8a10.4 10.4 0 1 0 20.8 0a10.4 10.4 0 1 0 -20.8 0zM2092.1 1541.5a10.4 10.4 0 1 0 20.8 0a10.4 10.4 0 1 0 -20.8 0zM2099.8 1552.2a10.4 10.4 0 1 0 20.8 0a10.4 10.4 0 1 0 -20.8 0zM2107.5 1563a10.4 10.4 0 1 0 20.8 0a10.4 10.4 0 1 0 -20.8 0zM2115.2 1569.8a10.4 10.4 0 1 0 20.8 0a10.4 10.4 0 1 0 -20.8 0zM2122.9 1590a10.4 10.4 0 1 0 20.8 0a10.4 10.4 0 1 0 -20.8 0zM2130.6 1600a10.4 10.4 0 1 0 20.8 0a10.4 10.4 0 1 0 -20.8 0zM2138.3 1602a10.4 10.4 0 1 0 20.8 0a10.4 10.4 0 1 0 -20.8 0zM2146 1596a10.4 10.4 0 1 0 20.8 0a10.4 10.4 0 1 0 -20.8 0zM2153.7 1576.6a10.4 10.4 0 1 0 20.8 0a10.4 10.4 0 1 0 -20.8 0zM2161.4 1556a10.4 10.4 0 1 0 20.8 0a10.4 10.4 0 1 0 -20.8 0zM2169.1 1556a10.4 10.4 0 1 0 20.8 0a10.4 10.4 0 1 0 -20.8 0zM2176.8 1554a10.4 10.4 0 1 0 20.8 0a10.4 10.4 0 1 0 -20.8 0zM2184.5 1571.7a10.4 10.4 0 1 0 20.8 0a10.4 10.4 0 1 0 -20.8 0zM2192.2 1578a10.4 10.4 0 1 0 20.8 0a10.4 10.4 0 1 0 -20.8 0zM2199.9 1580a10.4 10.4 0 1 0 20.8 0a10.4 10.4 0 1 0 -20.8 0zM2207.6 1557a10.4 10.4 0 1 0 20.8 0a10.4 10.4 0 1 0 -20.8 0zM2215.2 1535a10.4 10.4 0 1 0 20.8 0a10.4 10.4 0 1 0 -20.8 0zM2222.9 1516.7a10.4 10.4 0 1 0 20.8 0a10.4 10.4 0 1 0 -20.8 0zM2230.6 1511.3a10.4 10.4 0 1 0 20.8 0a10.4 10.4 0 1 0 -20.8 0zM2238.3 1509.4a10.4 10.4 0 1 0 20.8 0a10.4 10.4 0 1 0 -20.8 0zM2246 1509.4a10.4 10.4 0 1 0 20.8 0a10.4 10.4 0 1 0 -20.8 0zM2253.7 1512.8a10.4 10.4 0 1 0 20.8 0a10.4 10.4 0 1 0 -20.8 0zM2261.4 1531.7a10.4 10.4 0 1 0 20.8 0a10.4 10.4 0 1 0 -20.8 0zM2269.1 1576a10.4 10.4 0 1 0 20.8 0a10.4 10.4 0 1 0 -20.8 0zM2276.8 1600a10.4 10.4 0 1 0 20.8 0a10.4 10.4 0 1 0 -20.8 0z" fill="#f72a32"/>
<path d="M356 800 L363.7 820 L371.4 840 L379.1 887.5 L386.8 932.5 L394.5 933.8 L402.2 905 L409.9 871.8 L417.6 846.8 L425.3 827.5 L432.9 811.3 L440.6 801.3 L448.3 793.8 L456 788.8 L463.7 786.3 L471.4 785.8 L479.1 786.8 L486.8 793.8 L494.5 793.8 L502.2 780 L509.9 758.3 L517.6 758.3 L525.3 790 L533 821.3 L540.7 803.8 L548.4 727.5 L556 654.3 L563.7 600 L571.4 570.8 L579.1 538.3 L586.8 501.3 L594.5 462.5 L602.2 417.5 L609.9 356.8 L617.6 308.8 L625.3 293.3 L633 332.5 L640.7 362 L648.4 375 L656.1 368.3 L663.8 377.5 L671.5 412.5 L679.2 455 L686.8 493.8 L694.5 517.5 L702.2 545 L709.9 585 L717.6 642.5 L725.3 689.3 L733 713 L740.7 723.8 L748.4 749.3 L756.1 806.3 L763.8 863.8 L771.5 908.8 L779.2 920 L786.9 938.8 L794.6 974.3 L802.3 1028.8 L810 1074 L817.6 1072.5 L825.3 1068 L833 1067.5 L840.7 1073 L848.4 1083 L856.1 1109.3 L863.8 1153 L871.5 1191.3 L879.2 1212.5 L886.9 1219.3 L894.6 1226.8 L902.3 1230.5 L910 1236.8 L917.7 1249.3 L925.4 1283.8 L933.1 1309.3 L940.8 1306.8 L948.4 1278 L956.1 1251.8 L963.8 1244.3 L971.5 1245.5 L979.2 1255.5 L986.9 1273 L994.6 1289.8 L1002.3 1297.5 L1010 1290.5 L1017.7 1290 L1025.4 1305.5 L1033.1 1329.3 L1040.8 1348 L1048.5 1354.3 L1056.2 1354.3 L1063.9 1343 L1071.5 1328 L1079.2 1310.5 L1086.9 1302.5 L1094.6 1301 L1102.3 1303 L1110 1304.3 L1117.7 1306.8 L1125.4 1313.5 L1133.1 1336 L1140.8 1360.5 L1148.5 1361 L1156.2 1336 L1163.9 1308.5 L1171.6 1307.5 L1179.3 1323.5 L1187 1339.3 L1194.7 1343 L1202.3 1342.5 L1210 1348 L1217.7 1360.5 L1225.4 1380 L1233.1 1380.5 L1240.8 1379.3 L1248.5 1370 L1256.2 1356 L1263.9 1340.5 L1271.6 1335.5 L1279.3 1347.5 L1287 1371.8 L1294.7 1396 L1302.4 1423 L1310.1 1446 L1317.8 1458.5 L1325.5 1458.5 L1333.1 1454.3 L1340.8 1445.5 L1348.5 1429.3 L1356.2 1420 L1363.9 1417.5 L1371.6 1417.5 L1379.3 1413.8 L1387 1406.3 L1394.7 1396.3 L1402.4 1404.3 L1410.1 1421.8 L1417.8 1435 L1425.5 1436.8 L1433.2 1436.8 L1440.9 1448 L1448.6 1474.3 L1456.2 1501.8 L1463.9 1515.5 L1471.6 1515.5 L1479.3 1514.3 L1487 1509.3 L1494.7 1505.5 L1502.4 1499.3 L1510.1 1488 L1517.8 1478 L1525.5 1478 L1533.2 1486.8 L1540.9 1505.5 L1548.6 1514.3 L1556.3 1516.8 L1564 1516.8 L1571.7 1513.5 L1579.4 1506.8 L1587 1506.8 L1594.7 1520.5 L1602.4 1530.5 L1610.1 1537.5 L1617.8 1537.5 L1625.5 1543 L1633.2 1553 L1640.9 1556.8 L1648.6 1556.8 L1656.3 1554.3 L1664 1548 L1671.7 1543 L1679.4 1543 L1687.1 1548 L1694.8 1560.5 L1702.5 1580.5 L1710.2 1600 L1717.8 1612 L1725.5 1615 L1733.2 1612 L1740.9 1608 L1748.6 1600 L1756.3 1574.8 L1764 1566 L1771.7 1554.3 L1779.4 1560.5 L1787.1 1573.8 L1794.8 1588.8 L1802.5 1596 L1810.2 1600 L1817.9 1600 L1825.6 1598 L1833.3 1590 L1840.9 1581.8 L1848.6 1581.8 L1856.3 1586.3 L1864 1594 L1871.7 1598 L1879.4 1596 L1887.1 1588 L1894.8 1578.8 L1902.5 1583.3 L1910.2 1592 L1917.9 1598 L1925.6 1596 L1933.3 1588.8 L1941 1586.3 L1948.7 1594 L1956.4 1602 L1964.1 1606 L1971.7 1602 L1979.4 1594 L1987.1 1582.5 L1994.8 1570 L2002.5 1551 L2010.2 1514.3 L2017.9 1488 L2025.6 1487.5 L2033.3 1526.8 L2041 1558 L2048.7 1578 L2056.4 1592 L2064.1 1598 L2071.8 1595 L2079.5 1588.8 L2087.2 1585.8 L2094.8 1590.4 L2102.5 1592.3 L2110.2 1593.8 L2117.9 1596 L2125.6 1588 L2133.3 1577 L2141 1567.5 L2148.7 1560.6 L2156.4 1561.1 L2164.1 1560.6 L2171.8 1558.7 L2179.5 1556.7 L2187.2 1553.8 L2194.9 1548 L2202.6 1542.6 L2210.3 1545.5 L2218 1558.9 L2225.6 1572.4 L2233.3 1574.3 L2241 1554.5 L2248.7 1544 L2256.4 1554.5 L2264.1 1575.5 L2271.8 1582 L2279.5 1572 L2287.2 1563" fill="none" stroke="#3e50a2" stroke-width="3.2" stroke-linejoin="round"/>
<path d="M356 785.8l12.5 22h-25zM363.7 805.8l12.5 22h-25zM371.4 825.8l12.5 22h-25zM379.1 873.3l12.5 22h-25zM386.8 918.3l12.5 22h-25zM394.5 919.6l12.5 22h-25zM402.2 890.8l12.5 22h-25zM409.9 857.6l12.5 22h-25zM417.6 832.6l12.5 22h-25zM425.3 813.3l12.5 22h-25zM432.9 797.1l12.5 22h-25zM440.6 787.1l12.5 22h-25zM448.3 779.6l12.5 22h-25zM456 774.6l12.5 22h-25zM463.7 772.1l12.5 22h-25zM471.4 771.6l12.5 22h-25zM479.1 772.6l12.5 22h-25zM486.8 779.6l12.5 22h-25zM494.5 779.6l12.5 22h-25zM502.2 765.8l12.5 22h-25zM509.9 744.1l12.5 22h-25zM517.6 744.1l12.5 22h-25zM525.3 775.8l12.5 22h-25zM533 807.1l12.5 22h-25zM540.7 789.6l12.5 22h-25zM548.4 713.3l12.5 22h-25zM556 640.1l12.5 22h-25zM563.7 585.8l12.5 22h-25zM571.4 556.6l12.5 22h-25zM579.1 524.1l12.5 22h-25zM586.8 487.1l12.5 22h-25zM594.5 448.3l12.5 22h-25zM602.2 403.3l12.5 22h-25zM609.9 342.6l12.5 22h-25zM617.6 294.6l12.5 22h-25zM625.3 279.1l12.5 22h-25zM633 318.3l12.5 22h-25zM640.7 347.8l12.5 22h-25zM648.4 360.8l12.5 22h-25zM656.1 354.1l12.5 22h-25zM663.8 363.3l12.5 22h-25zM671.5 398.3l12.5 22h-25zM679.2 440.8l12.5 22h-25zM686.8 479.6l12.5 22h-25zM694.5 503.3l12.5 22h-25zM702.2 530.8l12.5 22h-25zM709.9 570.8l12.5 22h-25zM717.6 628.3l12.5 22h-25zM725.3 675.1l12.5 22h-25zM733 698.8l12.5 22h-25zM740.7 709.6l12.5 22h-25zM748.4 735.1l12.5 22h-25zM756.1 792.1l12.5 22h-25zM763.8 849.6l12.5 22h-25zM771.5 894.6l12.5 22h-25zM779.2 905.8l12.5 22h-25zM786.9 924.6l12.5 22h-25zM794.6 960.1l12.5 22h-25zM802.3 1014.6l12.5 22h-25zM810 1059.8l12.5 22h-25zM817.6 1058.3l12.5 22h-25zM825.3 1053.8l12.5 22h-25zM833 1053.3l12.5 22h-25zM840.7 1058.8l12.5 22h-25zM848.4 1068.8l12.5 22h-25zM856.1 1095.1l12.5 22h-25zM863.8 1138.8l12.5 22h-25zM871.5 1177.1l12.5 22h-25zM879.2 1198.3l12.5 22h-25zM886.9 1205.1l12.5 22h-25zM894.6 1212.6l12.5 22h-25zM902.3 1216.3l12.5 22h-25zM910 1222.6l12.5 22h-25zM917.7 1235.1l12.5 22h-25zM925.4 1269.6l12.5 22h-25zM933.1 1295.1l12.5 22h-25zM940.8 1292.6l12.5 22h-25zM948.4 1263.8l12.5 22h-25zM956.1 1237.6l12.5 22h-25zM963.8 1230.1l12.5 22h-25zM971.5 1231.3l12.5 22h-25zM979.2 1241.3l12.5 22h-25zM986.9 1258.8l12.5 22h-25zM994.6 1275.6l12.5 22h-25zM1002.3 1283.3l12.5 22h-25zM1010 1276.3l12.5 22h-25zM1017.7 1275.8l12.5 22h-25zM1025.4 1291.3l12.5 22h-25zM1033.1 1315.1l12.5 22h-25zM1040.8 1333.8l12.5 22h-25zM1048.5 1340.1l12.5 22h-25zM1056.2 1340.1l12.5 22h-25zM1063.9 1328.8l12.5 22h-25zM1071.5 1313.8l12.5 22h-25zM1079.2 1296.3l12.5 22h-25zM1086.9 1288.3l12.5 22h-25zM1094.6 1286.8l12.5 22h-25zM1102.3 1288.8l12.5 22h-25zM1110 1290.1l12.5 22h-25zM1117.7 1292.6l12.5 22h-25zM1125.4 1299.3l12.5 22h-25zM1133.1 1321.8l12.5 22h-25zM1140.8 1346.3l12.5 22h-25zM1148.5 1346.8l12.5 22h-25zM1156.2 1321.8l12.5 22h-25zM1163.9 1294.3l12.5 22h-25zM1171.6 1293.3l12.5 22h-25zM1179.3 1309.3l12.5 22h-25zM1187 1325.1l12.5 22h-25zM1194.7 1328.8l12.5 22h-25zM1202.3 1328.3l12.5 22h-25zM1210 1333.8l12.5 22h-25zM1217.7 1346.3l12.5 22h-25zM1225.4 1365.8l12.5 22h-25zM1233.1 1366.3l12.5 22h-25zM1240.8 1365.1l12.5 22h-25zM1248.5 1355.8l12.5 22h-25zM1256.2 1341.8l12.5 22h-25zM1263.9 1326.3l12.5 22h-25zM1271.6 1321.3l12.5 22h-25zM1279.3 1333.3l12.5 22h-25zM1287 1357.6l12.5 22h-25zM1294.7 1381.8l12.5 22h-25zM1302.4 1408.8l12.5 22h-25zM1310.1 1431.8l12.5 22h-25zM1317.8 1444.3l12.5 22h-25zM1325.5 1444.3l12.5 22h-25zM1333.1 1440.1l12.5 22h-25zM1340.8 1431.3l12.5 22h-25zM1348.5 1415.1l12.5 22h-25zM1356.2 1405.8l12.5 22h-25zM1363.9 1403.3l12.5 22h-25zM1371.6 1403.3l12.5 22h-25zM1379.3 1399.6l12.5 22h-25zM1387 1392.1l12.5 22h-25zM1394.7 1382.1l12.5 22h-25zM1402.4 1390.1l12.5 22h-25zM1410.1 1407.6l12.5 22h-25zM1417.8 1420.8l12.5 22h-25zM1425.5 1422.6l12.5 22h-25zM1433.2 1422.6l12.5 22h-25zM1440.9 1433.8l12.5 22h-25zM1448.6 1460.1l12.5 22h-25zM1456.2 1487.6l12.5 22h-25zM1463.9 1501.3l12.5 22h-25zM1471.6 1501.3l12.5 22h-25zM1479.3 1500.1l12.5 22h-25zM1487 1495.1l12.5 22h-25zM1494.7 1491.3l12.5 22h-25zM1502.4 1485.1l12.5 22h-25zM1510.1 1473.8l12.5 22h-25zM1517.8 1463.8l12.5 22h-25zM1525.5 1463.8l12.5 22h-25zM1533.2 1472.6l12.5 22h-25zM1540.9 1491.3l12.5 22h-25zM1548.6 1500.1l12.5 22h-25zM1556.3 1502.6l12.5 22h-25zM1564 1502.6l12.5 22h-25zM1571.7 1499.3l12.5 22h-25zM1579.4 1492.6l12.5 22h-25zM1587 1492.6l12.5 22h-25zM1594.7 1506.3l12.5 22h-25zM1602.4 1516.3l12.5 22h-25zM1610.1 1523.3l12.5 22h-25zM1617.8 1523.3l12.5 22h-25zM1625.5 1528.8l12.5 22h-25zM1633.2 1538.8l12.5 22h-25zM1640.9 1542.6l12.5 22h-25zM1648.6 1542.6l12.5 22h-25zM1656.3 1540.1l12.5 22h-25zM1664 1533.8l12.5 22h-25zM1671.7 1528.8l12.5 22h-25zM1679.4 1528.8l12.5 22h-25zM1687.1 1533.8l12.5 22h-25zM1694.8 1546.3l12.5 22h-25zM1702.5 1566.3l12.5 22h-25zM1710.2 1585.8l12.5 22h-25zM1717.8 1597.8l12.5 22h-25zM1725.5 1600.8l12.5 22h-25zM1733.2 1597.8l12.5 22h-25zM1740.9 1593.8l12.5 22h-25zM1748.6 1585.8l12.5 22h-25zM1756.3 1560.6l12.5 22h-25zM1764 1551.8l12.5 22h-25zM1771.7 1540.1l12.5 22h-25zM1779.4 1546.3l12.5 22h-25zM1787.1 1559.6l12.5 22h-25zM1794.8 1574.6l12.5 22h-25zM1802.5 1581.8l12.5 22h-25zM1810.2 1585.8l12.5 22h-25zM1817.9 1585.8l12.5 22h-25zM1825.6 1583.8l12.5 22h-25zM1833.3 1575.8l12.5 22h-25zM1840.9 1567.6l12.5 22h-25zM1848.6 1567.6l12.5 22h-25zM1856.3 1572.1l12.5 22h-25zM1864 1579.8l12.5 22h-25zM1871.7 1583.8l12.5 22h-25zM1879.4 1581.8l12.5 22h-25zM1887.1 1573.8l12.5 22h-25zM1894.8 1564.6l12.5 22h-25zM1902.5 1569.1l12.5 22h-25zM1910.2 1577.8l12.5 22h-25zM1917.9 1583.8l12.5 22h-25zM1925.6 1581.8l12.5 22h-25zM1933.3 1574.6l12.5 22h-25zM1941 1572.1l12.5 22h-25zM1948.7 1579.8l12.5 22h-25zM1956.4 1587.8l12.5 22h-25zM1964.1 1591.8l12.5 22h-25zM1971.7 1587.8l12.5 22h-25zM1979.4 1579.8l12.5 22h-25zM1987.1 1568.3l12.5 22h-25zM1994.8 1555.8l12.5 22h-25zM2002.5 1536.8l12.5 22h-25zM2010.2 1500.1l12.5 22h-25zM2017.9 1473.8l12.5 22h-25zM2025.6 1473.3l12.5 22h-25zM2033.3 1512.6l12.5 22h-25zM2041 1543.8l12.5 22h-25zM2048.7 1563.8l12.5 22h-25zM2056.4 1577.8l12.5 22h-25zM2064.1 1583.8l12.5 22h-25zM2071.8 1580.8l12.5 22h-25zM2079.5 1574.6l12.5 22h-25zM2087.2 1571.6l12.5 22h-25zM2094.8 1576.2l12.5 22h-25zM2102.5 1578.1l12.5 22h-25zM2110.2 1579.6l12.5 22h-25zM2117.9 1581.8l12.5 22h-25zM2125.6 1573.8l12.5 22h-25zM2133.3 1562.8l12.5 22h-25zM2141 1553.3l12.5 22h-25zM2148.7 1546.4l12.5 22h-25zM2156.4 1546.9l12.5 22h-25zM2164.1 1546.4l12.5 22h-25zM2171.8 1544.5l12.5 22h-25zM2179.5 1542.5l12.5 22h-25zM2187.2 1539.6l12.5 22h-25zM2194.9 1533.8l12.5 22h-25zM2202.6 1528.4l12.5 22h-25zM2210.3 1531.3l12.5 22h-25zM2218 1544.7l12.5 22h-25zM2225.6 1558.2l12.5 22h-25zM2233.3 1560.1l12.5 22h-25zM2241 1540.3l12.5 22h-25zM2248.7 1529.8l12.5 22h-25zM2256.4 1540.3l12.5 22h-25zM2264.1 1561.3l12.5 22h-25zM2271.8 1567.8l12.5 22h-25zM2279.5 1557.8l12.5 22h-25zM2287.2 1548.8l12.5 22h-25z" fill="#3e50a2"/>
</g>
<rect x="1537" y="74.5" width="672" height="398" fill="#fff" stroke="#0b0b0b" stroke-width="3.4"/>
<path d="M1550 145.3 H1783.5" stroke="#0b0b0b" stroke-width="2.6"/>
<path d="M1550 273.3 H1783.5" stroke="#f72a32" stroke-width="2.6"/>
<path d="M1550 401.5 H1783.5" stroke="#3e50a2" stroke-width="2.6"/>
<rect x="1657.9" y="136.4" width="17.8" height="17.8" fill="#0b0b0b"/>
<circle cx="1666.8" cy="273.4" r="10.4" fill="#f72a32"/>
<path d="M1666.8 388.1l12.4 20.8h-24.8z" fill="#3e50a2"/>
<g fill="#0b0b0b" font-size="102">
<text transform="translate(1811.5 181.7) scale(1 1.041)" >40 mW</text><text transform="translate(1811.5 309.8) scale(1 1.041)" >75 mW</text><text transform="translate(1811.5 437.9) scale(1 1.041)" >150 mW</text>
</g>
<text transform="translate(497.2 257.9) scale(1 1.03)" font-size="64.7" fill="#3e50a2">[145 cm<tspan font-size="38.5" dy="-31.3">-1</tspan><tspan dy="31.3">]</tspan></text>
<text transform="translate(1031.3 727) scale(1 1.03)" font-size="65.5" fill="#f72a32">TO: [180 cm<tspan font-size="39" dy="-31.3">-1</tspan><tspan dy="31.3">]</tspan></text>
<text transform="translate(1252 959.5) scale(1 1.03)" font-size="65.3" fill="#f72a32">LO: [186 cm<tspan font-size="38.9" dy="-31.3">-1</tspan><tspan dy="31.3">]</tspan></text>
<text transform="translate(469.8 1109.4) scale(1 1.03)" font-size="64.8" fill="#0b0b0b">[155 cm<tspan font-size="38.6" dy="-31.3">-1</tspan><tspan dy="31.3">]</tspan></text>
<path d="M1193 751.5V806" stroke="#f72a32" stroke-width="3"/><path d="M1182.2 804.5h21.6L1193 844.5z" fill="#f72a32"/>
<path d="M1275.8 962V1015" stroke="#f72a32" stroke-width="3"/><path d="M1265 1013.3h21.6L1275.8 1053z" fill="#f72a32"/>
<path d="M691.2 1131.9L724.4 1144.4" stroke="#0b0b0b" stroke-width="3"/>
<path d="M718.8 1153.8L726.4 1133.6L760 1157.8z" fill="#0b0b0b"/>
</svg></body></html>
